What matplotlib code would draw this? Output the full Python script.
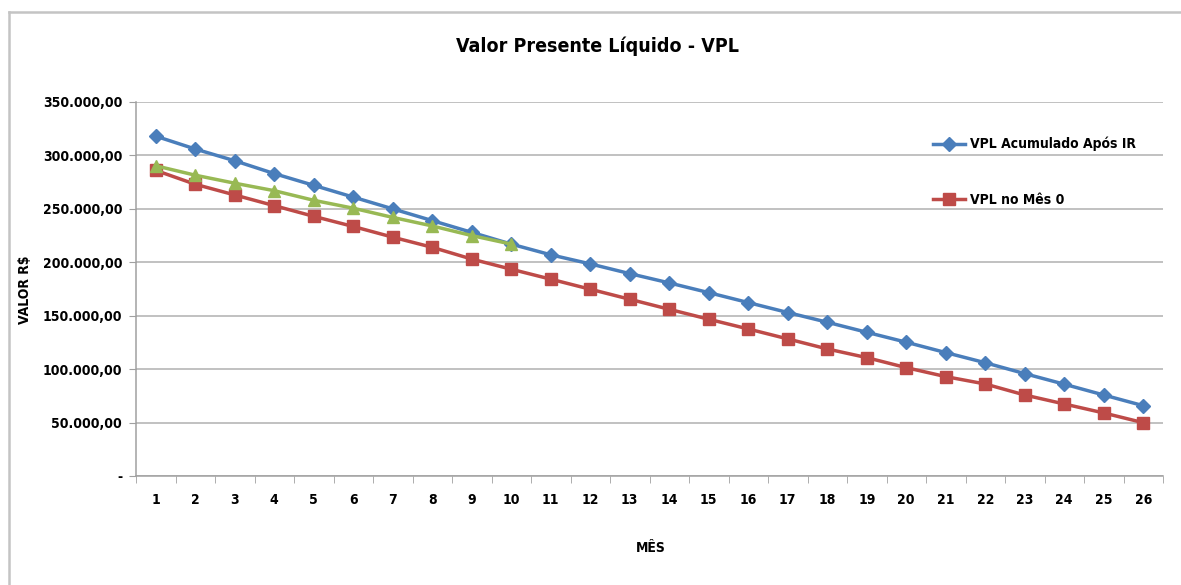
import matplotlib
matplotlib.use("Agg")
import matplotlib.pyplot as plt
from matplotlib.lines import Line2D
from matplotlib.ticker import FuncFormatter, FixedLocator

plt.rcParams['font.family'] = ['DejaVu Sans']
plt.rcParams['font.stretch'] = 'condensed'

meses = list(range(1, 27))
vpl_acumulado = [318000, 306000, 295000, 283000, 272000, 261000, 250000, 239000, 228000, 217000,
                 207000, 198500, 189400, 180700, 171600, 162300, 153000, 143900, 134500, 125200,
                 115500, 106000, 95800, 85900, 75800, 65800]
vpl_mes0 = [286000, 273000, 263000, 253000, 243000, 233500, 223500, 214000, 203000, 193500,
            184200, 174800, 165400, 156000, 146700, 137600, 128300, 118900, 110800, 101400,
            93000, 86100, 75800, 67400, 59000, 49900]
meses_verde = list(range(1, 11))
vpl_verde = [290300, 281500, 274000, 267000, 258000, 250600, 242000, 234000, 225000, 217000]

y_ticks = [0, 50000, 100000, 150000, 200000, 250000, 300000, 350000]

W, H = 1181, 585
fig = plt.figure(figsize=(W / 100, H / 100), dpi=100)
ax = fig.add_axes([136 / W, 1 - 476 / H, (1163 - 136) / W, (476 - 102) / H])

blue, red, green = '#4a7ebb', '#be4b48', '#98b954'
ax.plot(meses, vpl_acumulado, color=blue, lw=2.5, marker='D', ms=7, label='VPL Acumulado Após IR', zorder=3)
ax.plot(meses, vpl_mes0, color=red, lw=2.5, marker='s', ms=8, label='VPL no Mês 0', zorder=3)
ax.plot(meses_verde, vpl_verde, color=green, lw=2.5, marker='^', ms=8.5, zorder=4)

ax.set_xlim(0.5, 26.5)
ax.set_ylim(0, 350000)

def fmt(v, pos):
    if v == 0:
        return '-'
    return f"{int(v):,}".replace(',', '.') + ',00'

ax.yaxis.set_major_locator(FixedLocator(y_ticks))
ax.yaxis.set_major_formatter(FuncFormatter(fmt))
ax.set_xticks(meses)
ax.set_xticklabels([str(m) for m in meses])
ax.set_xticks([m + 0.5 for m in range(0, 27)], minor=True)
ax.tick_params(axis='x', which='major', length=0, pad=12, labelsize=10)
ax.tick_params(axis='x', which='minor', length=5, color='#a0a0a0', direction='out')
ax.tick_params(axis='y', length=5, color='#a0a0a0', direction='out', labelsize=10, pad=5)
for lab in ax.get_xticklabels() + ax.get_yticklabels():
    lab.set_fontweight('bold')

ax.grid(axis='y', color='#b0b0b0', lw=1.1)
ax.set_axisbelow(True)
for s in ['top', 'right']:
    ax.spines[s].set_visible(False)
for s in ['left', 'bottom']:
    ax.spines[s].set_color('#a0a0a0')
    ax.spines[s].set_linewidth(1.1)

fig.text(598 / W, 1 - 46 / H, 'Valor Presente Líquido - VPL', ha='center', va='center',
         fontsize=14, fontweight='bold')
fig.text(25 / W, 1 - 290 / H, 'VALOR R$', ha='center', va='center', rotation=90,
         fontsize=10, fontweight='bold')
fig.text(651 / W, 1 - 548 / H, 'MÊS', ha='center', va='center', fontsize=10, fontweight='bold')

leg = ax.legend(loc='upper left', bbox_to_anchor=(926 / W, 1 - 130 / H), bbox_transform=fig.transFigure,
                frameon=False, handlelength=2.3, handletextpad=0.4, labelspacing=3.0, borderpad=0,
                prop={'weight': 'bold', 'size': 10, 'stretch': 'condensed'})

fig.add_artist(Line2D([9 / W, 1], [1 - 12 / H, 1 - 12 / H], color='#c4c4c4', lw=1.8, transform=fig.transFigure))
fig.add_artist(Line2D([9 / W, 9 / W], [0, 1 - 12 / H], color='#c4c4c4', lw=1.8, transform=fig.transFigure))

fig.savefig('out.png', dpi=100)
